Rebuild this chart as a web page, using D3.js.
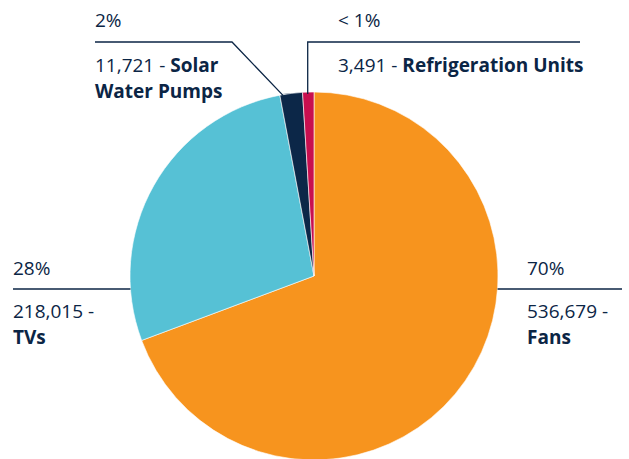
<!DOCTYPE html>
<html>
<head>
<meta charset="utf-8">
<script src="https://cdn.jsdelivr.net/npm/d3@7"></script>
<style>
  body { margin: 0; background: #fff; }
  text { font-family: "Open Sans", "Lato", sans-serif; fill: #0b2545; }
</style>
</head>
<body>
<div id="chart"></div>
<script>
// chart data
var categories = ["Fans", "TVs", "Solar Water Pumps", "Refrigeration Units"];
var counts = [536679, 218015, 11721, 3491];
var pctValues = [70, 28, 2, 1];          // rounded shares, used for the slices
var pctLabels = ["70%", "28%", "2%", "< 1%"];
var colors = ["#f7941e", "#56c1d5", "#0c2748", "#c80f4f"];

var svgWidth = 629;
var svgHeight = 459;
var cx = 314, cy = 276, radius = 184;

var svg = d3.select("#chart")
  .append("svg")
  .attr("width", svgWidth)
  .attr("height", svgHeight);

var pie = d3.pie().sort(null).value(d => d);
var arcs = pie(pctValues);

var arc = d3.arc().innerRadius(0).outerRadius(radius);

var pieGroup = svg.append("g")
  .attr("transform", `translate(${cx}, ${cy})`);

pieGroup.selectAll("path")
  .data(arcs)
  .enter()
  .append("path")
  .attr("d", arc)
  .attr("fill", (d, i) => colors[i])
  .attr("stroke", "#fff")
  .attr("stroke-width", 0.6);

// point on the rim of a slice, f = fraction through the slice
function rimPoint(a, f) {
  var ang = a.startAngle + (a.endAngle - a.startAngle) * f;
  return [cx + radius * Math.sin(ang), cy - radius * Math.cos(ang)];
}

var fmt = d3.format(",");
var lineColor = "#0b2545";
var fs = 19;

function label(x, pctY, pct, num, name) {
  var g = svg.append("g");
  g.append("text").attr("x", x).attr("y", pctY)
    .attr("font-size", fs).text(pct);
  g.append("text").attr("x", x).attr("y", pctY + 43)
    .attr("font-size", fs).text(num + " -");
  g.append("text").attr("x", x).attr("y", pctY + 69)
    .attr("font-size", fs).attr("font-weight", 700).text(name);
}

// Fans (right)
var lineY = 289;
var dx = Math.sqrt(radius * radius - (lineY - cy) * (lineY - cy));
svg.append("line")
  .attr("x1", cx + dx).attr("x2", 622)
  .attr("y1", lineY).attr("y2", lineY)
  .attr("stroke", lineColor).attr("stroke-width", 1.3);
label(527, 275, pctLabels[0], fmt(counts[0]), categories[0]);

// TVs (left)
svg.append("line")
  .attr("x1", 13).attr("x2", cx - dx)
  .attr("y1", lineY).attr("y2", lineY)
  .attr("stroke", lineColor).attr("stroke-width", 1.3);
label(13, 275, pctLabels[1], fmt(counts[1]), categories[1]);

// Solar water pumps (top left)
var pS = rimPoint(arcs[2], 0.15);
svg.append("polyline")
  .attr("points", [[95, 42], [232, 42], [pS[0], pS[1] + 1]].map(p => p.join(",")).join(" "))
  .attr("fill", "none")
  .attr("stroke", lineColor).attr("stroke-width", 1.3);
svg.append("text").attr("x", 95).attr("y", 27).attr("font-size", fs).text(pctLabels[2]);
var st = svg.append("text").attr("x", 95).attr("y", 72).attr("font-size", fs);
st.append("tspan").text(fmt(counts[2]) + " - ");
st.append("tspan").attr("font-weight", 700).text("Solar");
svg.append("text").attr("x", 95).attr("y", 98).attr("font-size", fs)
  .attr("font-weight", 700).text("Water Pumps");

// Refrigeration units (top right)
var pR = rimPoint(arcs[3], 0.45);
svg.append("polyline")
  .attr("points", [[580, 42], [pR[0], 42], [pR[0], pR[1] + 2]].map(p => p.join(",")).join(" "))
  .attr("fill", "none")
  .attr("stroke", lineColor).attr("stroke-width", 1.3);
svg.append("text").attr("x", 338).attr("y", 27).attr("font-size", fs).text(pctLabels[3]);
var rt = svg.append("text").attr("x", 338).attr("y", 72).attr("font-size", fs);
rt.append("tspan").text(fmt(counts[3]) + " - ");
rt.append("tspan").attr("font-weight", 700).text(categories[3]);
</script>
</body>
</html>
